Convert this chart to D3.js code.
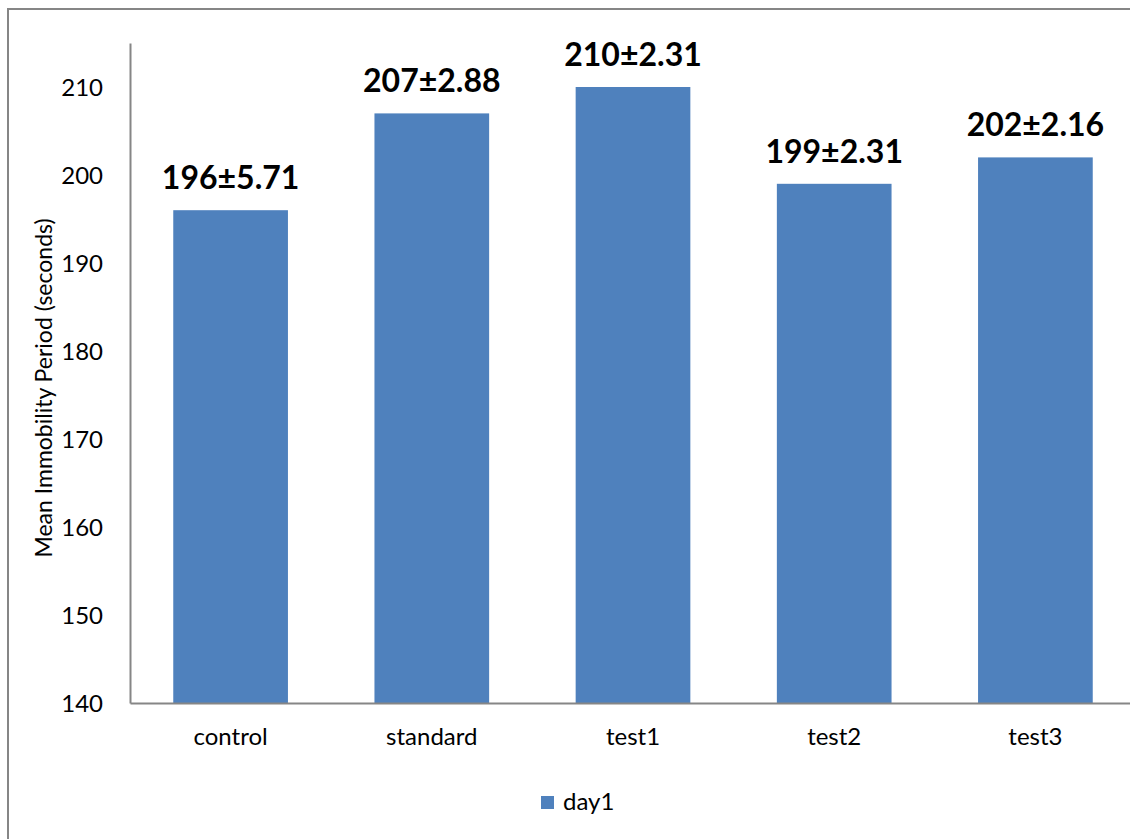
<!DOCTYPE html>
<html>
<head>
<meta charset="utf-8">
<script src="https://cdn.jsdelivr.net/npm/d3@7"></script>
<style>
  html, body { margin: 0; padding: 0; background: #fff; }
  svg { display: block; }
  text { font-family: Lato, "Open Sans", sans-serif; fill: #000; }
</style>
</head>
<body>
<svg id="chart" width="1130" height="839"></svg>
<script>
// Mean immobility period on day 1 per treatment group
const categories = ["control", "standard", "test1", "test2", "test3"];
const means = [196, 207, 210, 199, 202];
const sems = [5.71, 2.88, 2.31, 2.31, 2.16];
const yTicks = [140, 150, 160, 170, 180, 190, 200, 210];
const seriesName = "day1";

const svg = d3.select("#chart");
const W = 1130, H = 839;
const plot = { left: 130, top: 43, bottom: 703, right: 1136 };
const barColor = "#4F81BD";
const axisColor = "#868686";
const tickFont = "24px";

// outer frame (only left and top edges fall inside the canvas)
svg.append("path")
  .attr("d", `M8,${H} L8,9 L${W},9`)
  .attr("fill", "none")
  .attr("stroke", axisColor)
  .attr("stroke-width", 2);

const x = d3.scaleBand()
  .domain(categories)
  .range([plot.left, plot.right])
  .paddingInner(0.43)
  .paddingOuter(0.215);

const y = d3.scaleLinear()
  .domain([140, 215])
  .range([plot.bottom, plot.top]);

// bars
svg.append("g").selectAll("rect")
  .data(categories)
  .join("rect")
  .attr("x", d => x(d))
  .attr("width", x.bandwidth())
  .attr("y", (d, i) => y(means[i]))
  .attr("height", (d, i) => y(140) - y(means[i]))
  .attr("fill", barColor);

// value labels (mean ± SEM)
svg.append("g").selectAll("text")
  .data(categories)
  .join("text")
  .attr("x", d => x(d) + x.bandwidth() / 2)
  .attr("y", (d, i) => y(means[i]) - 21)
  .attr("text-anchor", "middle")
  .style("font-size", "32px")
  .style("font-weight", "bold")
  .text((d, i) => `${means[i]}±${sems[i].toFixed(2)}`);

// y axis
const yAxis = d3.axisLeft(y).tickValues(yTicks).tickSize(0).tickPadding(27);
const gy = svg.append("g")
  .attr("transform", `translate(${plot.left},0)`)
  .call(yAxis);
gy.select(".domain").attr("stroke", axisColor).attr("stroke-width", 2);
gy.selectAll(".tick text")
  .style("font-family", "Lato, 'Open Sans', sans-serif")
  .style("font-size", tickFont)
  .attr("dy", "0.35em")
  .attr("fill", "#000");

// x axis
const xAxis = d3.axisBottom(x).tickSize(0).tickPadding(25);
const gx = svg.append("g")
  .attr("transform", `translate(0,${plot.bottom})`)
  .call(xAxis);
gx.select(".domain").attr("stroke", axisColor).attr("stroke-width", 2);
gx.selectAll(".tick text")
  .style("font-family", "Lato, 'Open Sans', sans-serif")
  .style("font-size", tickFont)
  .attr("fill", "#000");

// y axis title
svg.append("text")
  .attr("transform", "translate(52,388) rotate(-90)")
  .attr("text-anchor", "middle")
  .style("font-size", "23px")
  .text("Mean Immobility Period (seconds)");

// legend
const legend = svg.append("g").attr("transform", "translate(541,796)");
legend.append("rect")
  .attr("width", 13).attr("height", 13)
  .attr("fill", barColor);
legend.append("text")
  .attr("x", 22).attr("y", 14)
  .style("font-size", tickFont)
  .text(seriesName);
</script>
</body>
</html>
